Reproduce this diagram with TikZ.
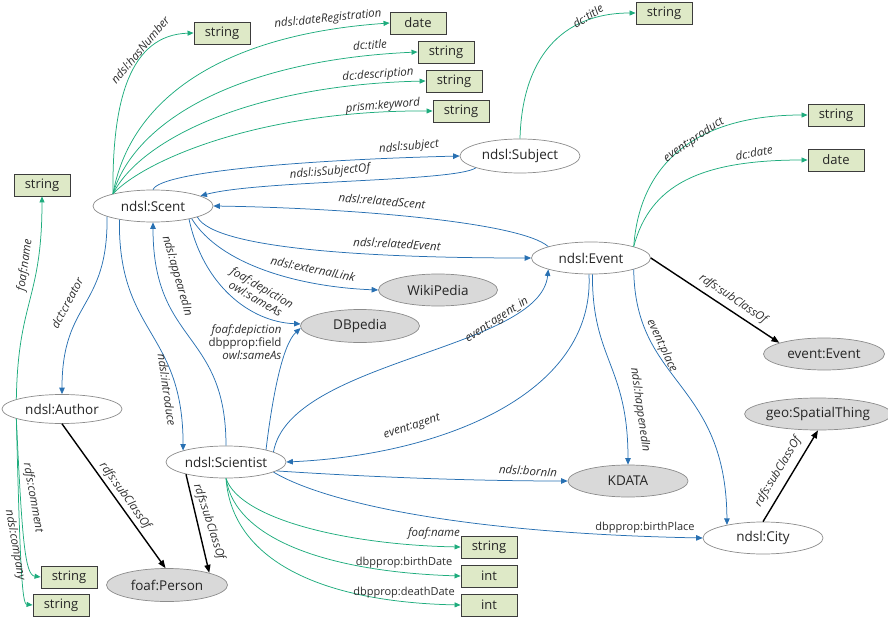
\documentclass[tikz,border=0pt]{standalone}
\usepackage{fontspec}
\setmainfont{Open Sans}
\usetikzlibrary{shapes.geometric,arrows.meta}
\definecolor{greenline}{RGB}{30,172,125}
\definecolor{blueline}{RGB}{40,112,178}
\definecolor{boxfill}{RGB}{222,233,199}
\definecolor{boxborder}{RGB}{60,60,60}
\definecolor{extgray}{RGB}{217,217,217}
\definecolor{ellborder}{RGB}{140,140,140}
\definecolor{labeltext}{RGB}{45,45,45}
\tikzset{
 ent/.style={ellipse, draw=ellborder, fill=white, line width=0.7pt, minimum width=120pt, minimum height=32pt, inner sep=0pt, font=\fontsize{13.5}{16}\selectfont, text=black!85},
 ext/.style={ent, fill=extgray},
 lit/.style={rectangle, draw=boxborder, fill=boxfill, line width=0.9pt, minimum width=56pt, minimum height=22pt, inner sep=0pt, font=\fontsize{13}{15}\selectfont, text=black!85},
 lbl/.style={font=\fontsize{11.5}{13}\selectfont\itshape, inner sep=0pt, text=labeltext},
 lblu/.style={font=\fontsize{11}{13}\selectfont, inner sep=0pt, text=labeltext},
 gline/.style={draw=greenline, line width=0.75pt, -{Triangle[length=6pt,width=5pt]}},
 bline/.style={draw=blueline, line width=0.75pt, -{Triangle[length=6.5pt,width=5.5pt]}},
 kline/.style={draw=black, line width=1.4pt, -{Triangle[length=8pt,width=6pt]}},
}
\begin{document}
\begin{tikzpicture}[x=1pt,y=-1pt]
\useasboundingbox (0,0) rectangle (888,620);
% entities
\node[ent] (scent) at (153,206) {ndsl:Scent};
\node[ent, minimum height=34pt] (subject) at (520,156) {ndsl:Subject};
\node[ent, minimum width=119pt] (event) at (591,258) {ndsl:Event};
\node[ext, minimum width=119pt] (wiki) at (438,290) {WikiPedia};
\node[ext, minimum width=119pt, minimum height=33pt] (dbp) at (360,326) {DBpedia};
\node[ext, minimum width=121pt] (eventE) at (824,354) {event:Event};
\node[ext] (geo) at (818,414) {geo:SpatialThing};
\node[ent] (city) at (763,538) {ndsl:City};
\node[ext] (kdata) at (628,481) {KDATA};
\node[ent, minimum height=29pt] (author) at (62,409) {ndsl:Author};
\node[ent] (scientist) at (226,462) {ndsl:Scientist};
\node[ext, minimum width=121pt, minimum height=33pt] (person) at (167,585) {foaf:Person};
% literals
\node[lit] (s1) at (222,33) {string};
\node[lit] (d1) at (418,23) {date};
\node[lit] (s2) at (446,52) {string};
\node[lit] (s3) at (454,81) {string};
\node[lit] (s4) at (461,111) {string};
\node[lit] (s5) at (664,13) {string};
\node[lit] (s6) at (836,115) {string};
\node[lit] (d2) at (836,160) {date};
\node[lit] (s7) at (42,185) {string};
\node[lit] (s8) at (69,577) {string};
\node[lit] (s9) at (61,605) {string};
\node[lit] (s10) at (489,547) {string};
\node[lit] (i1) at (489,576) {int};
\node[lit] (i2) at (489,605) {int};
% green edges from Scent
\draw[gline] (scent.163) .. controls (112,100) and (130,35) .. (s1.west);
\draw[gline] (scent.163) .. controls (130,100) and (220,35) .. (d1.west);
\draw[gline] (scent.163) .. controls (135,120) and (240,60) .. (s2.west);
\draw[gline] (scent.163) .. controls (140,140) and (250,85) .. (s3.west);
\draw[gline] (scent.163) .. controls (145,160) and (260,110) .. (s4.west);
% blue edges around Scent
\draw[bline] (scent.north) .. controls (160,172) and (300,160) .. (subject.west);
\draw[bline] (subject.195) .. controls (455,182) and (260,180) .. (scent.12);
\draw[bline] (event.165) .. controls (520,222) and (350,208) .. (scent.east);
\draw[bline] (scent.-14) .. controls (215,250) and (380,258) .. (event.west);
\draw[bline] (scent.-18) .. controls (220,265) and (300,287) .. (wiki.west);
\draw[bline] (scent.-20) .. controls (203,285) and (250,322) .. (dbp.178);
\draw[bline] (scientist.north) .. controls (226,330) and (153,345) .. (scent.south);
\draw[bline] (scent.193) .. controls (108,310) and (62,300) .. (author.north);
\draw[bline] (scent.202) .. controls (118,335) and (183,330) .. (scientist.165);
% blue edges around Scientist / Event
\draw[bline] (scientist.17) .. controls (272,400) and (282,345) .. (dbp.182);
\draw[bline] (scientist.12) .. controls (290,360) and (540,350) .. (event.195);
\draw[bline] (event.-97) .. controls (595,395) and (440,455) .. (scientist.east);
\draw[bline] (event.-85) .. controls (592,360) and (628,365) .. (kdata.north);
\draw[bline] (event.-15) .. controls (635,385) and (726,380) .. (city.160);
\draw[bline] (scientist.-10) .. controls (400,479) and (500,481) .. (kdata.west);
\draw[bline] (scientist.-12) .. controls (320,500) and (450,533) .. (city.west);
% green edges from Scientist
\draw[gline] (scientist.south) .. controls (240,520) and (350,545) .. (s10.west);
\draw[gline] (scientist.south) .. controls (235,540) and (330,572) .. (i1.west);
\draw[gline] (scientist.south) .. controls (232,560) and (320,602) .. (i2.west);
% green edges from Author
\draw[gline] (author.168) .. controls (18,300) and (42,300) .. (s7.south);
\draw[gline] (author.192) .. controls (22,540) and (25,575) .. (s8.west);
\draw[gline] (author.192) .. controls (20,565) and (22,604) .. (s9.west);
% green edges from Event and Subject
\draw[gline] (event.15) .. controls (640,160) and (700,115) .. (s6.west);
\draw[gline] (event.15) .. controls (650,185) and (700,160) .. (d2.west);
\draw[gline] (subject.north) .. controls (522,60) and (560,13) .. (s5.west);
% subclass edges
\draw[kline] (author.south) -- (person.95);
\draw[kline] (scientist.197) -- (person.16);
\draw[kline] (event.east) -- (eventE.166);
\draw[kline] (city.north) -- (geo.south);
% labels
\node[lbl, rotate=50] (l1) at (140,50) {ndsl:hasNumber};
\node[lbl, rotate=6] (l2) at (328,19) {ndsl:dateRegistration};
\node[lbl, rotate=4] (l3) at (370,45) {dc:title};
\node[lbl, rotate=4] (l4) at (378,75) {dc:description};
\node[lbl, rotate=5] (l5) at (383,106) {prism:keyword};
\node[lbl, rotate=5] (l6) at (409,147) {ndsl:subject};
\node[lbl, rotate=5] (l7) at (330,172) {ndsl:isSubjectOf};
\node[lbl, rotate=-5] (l8) at (382,201) {ndsl:relatedScent};
\node[lbl, rotate=-3] (l9) at (397,244) {ndsl:relatedEvent};
\node[lbl, rotate=-12] (l10) at (313,269) {ndsl:externalLink};
\node[lbl, rotate=-30, align=center] (l11) at (259,293) {foaf:depiction\\owl:sameAs};
\node[lbl, align=right] (l12) at (245,342) {foaf:depiction\\{\upshape dbpprop:field}\\owl:sameAs};
\node[lbl, rotate=-74] (l13) at (177,276) {ndsl:appearedIn};
\node[lbl, rotate=62] (l14) at (67,303) {dct:creator};
\node[lbl, rotate=82] (l15) at (25,265) {foaf:name};
\node[lbl, rotate=-82] (l16) at (167,390) {ndsl:introduce};
\node[lbl, rotate=33] (l17) at (497,320) {event:agent\_in};
\node[lbl, rotate=18] (l18) at (412,427) {event:agent};
\node[lbl, rotate=-4] (l19) at (528,471) {ndsl:bornIn};
\node[lblu] (l20) at (645,528) {dbpprop:birthPlace};
\node[lbl] (l21) at (434,533) {foaf:name};
\node[lblu] (l22) at (404,563) {dbpprop:birthDate};
\node[lblu] (l23) at (404,593) {dbpprop:deathDate};
\node[lbl, rotate=-82] (l24) at (640,410) {ndsl:happenedIn};
\node[lbl, rotate=-65] (l25) at (662,346) {event:place};
\node[lbl, rotate=-34] (l26) at (733,299) {rdfs:subClassOf};
\node[lbl, rotate=59] (l27) at (778,472) {rdfs:subClassOf};
\node[lbl, rotate=34] (l28) at (694,140) {event:product};
\node[lbl, rotate=10] (l29) at (754,153) {dc:date};
\node[lbl, rotate=33] (l30) at (588,16) {dc:title};
\node[lbl, rotate=-80] (l31) at (33,498) {rdfs:comment};
\node[lbl, rotate=-80] (l32) at (15,545) {ndsl:company};
\node[lbl, rotate=-54] (l33) at (125,496) {rdfs:subClassOf};
\node[lbl, rotate=-72] (l34) at (209,522) {rdfs:subClassOf};
\end{tikzpicture}
\end{document}
